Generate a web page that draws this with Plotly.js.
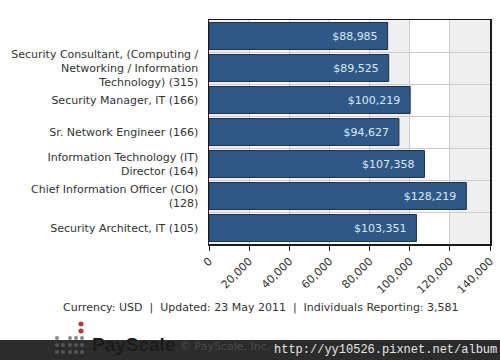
<!DOCTYPE html>
<html>
<head>
<meta charset="utf-8">
<script src="https://cdn.plot.ly/plotly-3.0.1.min.js"></script>
<style>html,body{margin:0;padding:0;background:#fff;}#chart{width:500px;height:360px;}</style>
</head>
<body>
<div id="chart"></div>
<script>
// ---- data ----
const jobTitles = [
  " ",
  "Security Consultant, (Computing /<br>Networking / Information<br>Technology) (315)",
  "Security Manager, IT (166)",
  "Sr. Network Engineer (166)",
  "Information Technology (IT)<br>Director (164)",
  "Chief Information Officer (CIO)<br>(128)",
  "Security Architect, IT (105)"
];
const medianSalary = [88985, 89525, 100219, 94627, 107358, 128219, 103351];
const xTickValues = [0, 20000, 40000, 60000, 80000, 100000, 120000, 140000];
const footerText = "Currency: USD  |  Updated: 23 May 2011  |  Individuals Reporting: 3,581";
const brandText = "PayScale";
const copyrightText = "© PayScale, Inc.";
const watermarkText = "http://yy10526.pixnet.net/album";

// ---- layout helpers (pixel -> paper) ----
const L = 209, R = 490, T = 20, B = 244;
const px = x => (x - L) / (R - L);
const py = y => (B - y) / (B - T);

const font = "DejaVu Sans, Verdana, sans-serif";

const shapes = [];
// alternating background bands
for (let i = 0; i < xTickValues.length - 1; i += 2) {
  shapes.push({type: "rect", xref: "x", yref: "paper", layer: "below",
    x0: xTickValues[i], x1: xTickValues[i + 1], y0: 0, y1: 1,
    fillcolor: "#efefef", line: {width: 0}});
}
// bottom dark band
shapes.push({type: "rect", xref: "paper", yref: "paper",
  x0: px(0), x1: px(500), y0: py(340), y1: py(361),
  fillcolor: "#2c2c2c", line: {width: 0}});
// logo dots
const redDots = [[81, 324], [81, 331]];
redDots.forEach(([x, y]) => {
  shapes.push({type: "circle", xref: "paper", yref: "paper",
    x0: px(x - 2.5), x1: px(x + 2.5), y0: py(y + 2.5), y1: py(y - 2.5),
    fillcolor: "#b8323f", line: {width: 0}});
});
const grayCols = [57, 63, 70, 76, 82];
const grayRows = [338, 345, 352];
grayRows.forEach((y, r) => {
  grayCols.forEach((x, c) => {
    if (r === 0 && c === 1) return;
    shapes.push({type: "circle", xref: "paper", yref: "paper",
      x0: px(x - 2), x1: px(x + 2), y0: py(y + 2), y1: py(y - 2),
      fillcolor: r === 0 ? "#8a8a8a" : "#555", line: {width: 0}});
  });
});

const annotations = [
  {text: footerText, xref: "paper", yref: "paper", x: px(261), y: py(307),
   showarrow: false, xanchor: "center", yanchor: "middle",
   font: {family: font, size: 11, color: "#333"}},
  {text: "<b>" + brandText + "</b>", xref: "paper", yref: "paper", x: px(90), y: py(344),
   showarrow: false, xanchor: "left", yanchor: "middle",
   font: {family: "Liberation Sans, Arial, sans-serif", size: 19, color: "#1b1b1b"}},
  {text: copyrightText, xref: "paper", yref: "paper", x: px(178), y: py(346),
   showarrow: false, xanchor: "left", yanchor: "middle",
   font: {family: font, size: 11, color: "#4a4a4a"}},
  {text: watermarkText, xref: "paper", yref: "paper", x: px(272), y: py(350),
   showarrow: false, xanchor: "left", yanchor: "middle",
   font: {family: "Liberation Mono, Courier New, monospace", size: 12, color: "#e6e6e6"}}
];

const trace = {
  type: "bar",
  orientation: "h",
  x: medianSalary,
  y: jobTitles,
  marker: {color: "#305887", line: {color: "#1b2f4c", width: 1}},
  texttemplate: "$%{x:,.0f}\u00a0\u00a0",
  textposition: "inside",
  insidetextanchor: "end",
  textfont: {family: font, size: 11, color: "#dce7f4"},
  hoverinfo: "none"
};

const layout = {
  width: 500, height: 360,
  margin: {l: L, r: 500 - R, t: T, b: 360 - B},
  paper_bgcolor: "#ffffff",
  plot_bgcolor: "#ffffff",
  showlegend: false,
  bargap: 0.16,
  xaxis: {
    range: [0, 140000], tickvals: xTickValues, tickformat: ",",
    tickangle: -45, ticks: "outside", ticklen: 5, tickcolor: "#222",
    showgrid: true, gridcolor: "#cccccc", zeroline: false,
    showline: true, linecolor: "#1a1a1a", linewidth: 1.5, mirror: true,
    tickfont: {family: font, size: 11, color: "#333"}, fixedrange: true
  },
  yaxis: {
    type: "category", autorange: "reversed", tickson: "boundaries",
    ticks: "", showgrid: true, gridcolor: "#cccccc", ticklabelstandoff: 7,
    showline: true, linecolor: "#1a1a1a", linewidth: 1.5, mirror: true,
    tickfont: {family: font, size: 11, color: "#333"}, fixedrange: true
  },
  shapes: shapes,
  annotations: annotations
};

Plotly.newPlot("chart", [trace], layout, {displayModeBar: false, staticPlot: true});
</script>
</body>
</html>
